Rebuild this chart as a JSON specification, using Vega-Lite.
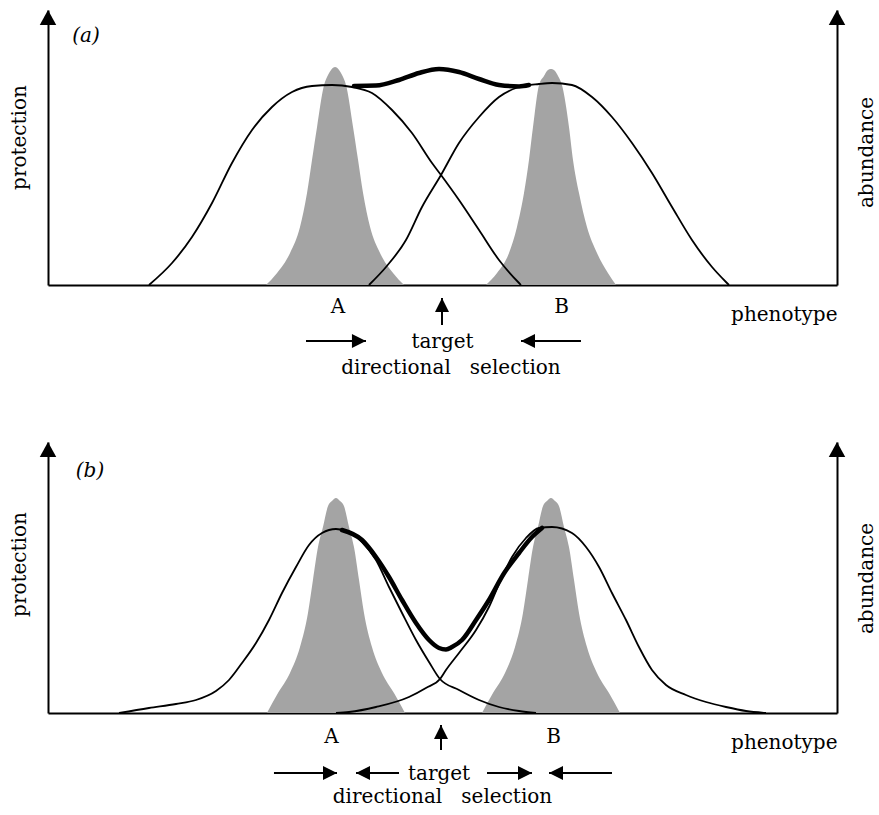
{
  "$schema": "https://vega.github.io/schema/vega-lite/v6.json",
  "padding": {"left": 9, "top": 10, "right": 0, "bottom": 0},
  "bounds": "flush",
  "spacing": 157,
  "config": {
    "font": "DejaVu Serif",
    "view": {"stroke": null},
    "axis": {"domainColor": "#000", "domainWidth": 2, "ticks": false, "labels": false, "grid": false, "titleFont": "DejaVu Serif", "titleFontSize": 20, "titleFontWeight": "normal", "titleColor": "#000"},
    "text": {"font": "DejaVu Serif", "fontSize": 20, "color": "#000"}
  },
  "datasets": {
    "prot": [
      {"panel":"a","s":"A","v":12.8,"h":0},{"panel":"a","s":"A","v":15.72,"h":0.11},{"panel":"a","s":"A","v":18.25,"h":0.24},{"panel":"a","s":"A","v":20.79,"h":0.41},{"panel":"a","s":"A","v":23.32,"h":0.61},{"panel":"a","s":"A","v":25.86,"h":0.775},{"panel":"a","s":"A","v":28.39,"h":0.89},{"panel":"a","s":"A","v":30.93,"h":0.965},{"panel":"a","s":"A","v":33.46,"h":0.995},{"panel":"a","s":"A","v":36.0,"h":1.0},{"panel":"a","s":"A","v":38.53,"h":0.99},{"panel":"a","s":"A","v":41.06,"h":0.96},{"panel":"a","s":"A","v":43.6,"h":0.875},{"panel":"a","s":"A","v":46.13,"h":0.76},{"panel":"a","s":"A","v":48.67,"h":0.61},{"panel":"a","s":"A","v":49.81,"h":0.55},{"panel":"a","s":"A","v":52.09,"h":0.425},{"panel":"a","s":"A","v":54.63,"h":0.275},{"panel":"a","s":"A","v":57.16,"h":0.125},{"panel":"a","s":"A","v":59.7,"h":0.01},{"panel":"a","s":"A","v":59.95,"h":0},
      {"panel":"a","s":"B","v":40.68,"h":0},{"panel":"a","s":"B","v":42.84,"h":0.09},{"panel":"a","s":"B","v":45.37,"h":0.225},{"panel":"a","s":"B","v":47.4,"h":0.39},{"panel":"a","s":"B","v":49.81,"h":0.55},{"panel":"a","s":"B","v":52.09,"h":0.71},{"panel":"a","s":"B","v":54.63,"h":0.84},{"panel":"a","s":"B","v":57.16,"h":0.94},{"panel":"a","s":"B","v":59.7,"h":0.99},{"panel":"a","s":"B","v":62.23,"h":1.005},{"panel":"a","s":"B","v":63.88,"h":1.01},{"panel":"a","s":"B","v":66.41,"h":1.0},{"panel":"a","s":"B","v":68.95,"h":0.94},{"panel":"a","s":"B","v":71.48,"h":0.84},{"panel":"a","s":"B","v":74.02,"h":0.71},{"panel":"a","s":"B","v":76.55,"h":0.56},{"panel":"a","s":"B","v":79.09,"h":0.39},{"panel":"a","s":"B","v":81.62,"h":0.225},{"panel":"a","s":"B","v":84.16,"h":0.09},{"panel":"a","s":"B","v":85.93,"h":0.015},{"panel":"a","s":"B","v":86.31,"h":0},
      {"panel":"a","s":"T","v":38.78,"h":0.995},{"panel":"a","s":"T","v":41.57,"h":0.997},{"panel":"a","s":"T","v":44.49,"h":1.025},{"panel":"a","s":"T","v":47.02,"h":1.06},{"panel":"a","s":"T","v":49.56,"h":1.08},{"panel":"a","s":"T","v":52.09,"h":1.065},{"panel":"a","s":"T","v":54.63,"h":1.03},{"panel":"a","s":"T","v":57.16,"h":1.0},{"panel":"a","s":"T","v":59.7,"h":0.993},{"panel":"a","s":"T","v":60.96,"h":1.0},
      {"panel":"b","s":"A","v":9.0,"h":0},{"panel":"b","s":"A","v":12.8,"h":0.025},{"panel":"b","s":"A","v":16.22,"h":0.045},{"panel":"b","s":"A","v":18.76,"h":0.065},{"panel":"b","s":"A","v":21.29,"h":0.11},{"panel":"b","s":"A","v":22.94,"h":0.165},{"panel":"b","s":"A","v":24.59,"h":0.25},{"panel":"b","s":"A","v":26.36,"h":0.35},{"panel":"b","s":"A","v":28.01,"h":0.465},{"panel":"b","s":"A","v":29.66,"h":0.6},{"panel":"b","s":"A","v":31.43,"h":0.73},{"panel":"b","s":"A","v":33.08,"h":0.84},{"panel":"b","s":"A","v":34.73,"h":0.9},{"panel":"b","s":"A","v":36.5,"h":0.92},{"panel":"b","s":"A","v":38.15,"h":0.905},{"panel":"b","s":"A","v":39.8,"h":0.855},{"panel":"b","s":"A","v":41.57,"h":0.765},{"panel":"b","s":"A","v":43.22,"h":0.63},{"panel":"b","s":"A","v":44.87,"h":0.5},{"panel":"b","s":"A","v":46.64,"h":0.365},{"panel":"b","s":"A","v":48.29,"h":0.255},{"panel":"b","s":"A","v":49.68,"h":0.17},{"panel":"b","s":"A","v":52.09,"h":0.115},{"panel":"b","s":"A","v":54.63,"h":0.065},{"panel":"b","s":"A","v":57.16,"h":0.03},{"panel":"b","s":"A","v":59.7,"h":0.01},{"panel":"b","s":"A","v":61.85,"h":0},
      {"panel":"b","s":"B","v":36.5,"h":0},{"panel":"b","s":"B","v":38.15,"h":0.005},{"panel":"b","s":"B","v":41.57,"h":0.03},{"panel":"b","s":"B","v":45.75,"h":0.08},{"panel":"b","s":"B","v":47.9,"h":0.125},{"panel":"b","s":"B","v":49.68,"h":0.17},{"panel":"b","s":"B","v":50.44,"h":0.215},{"panel":"b","s":"B","v":52.09,"h":0.3},{"panel":"b","s":"B","v":54.25,"h":0.415},{"panel":"b","s":"B","v":55.89,"h":0.53},{"panel":"b","s":"B","v":57.54,"h":0.68},{"panel":"b","s":"B","v":58.81,"h":0.78},{"panel":"b","s":"B","v":60.58,"h":0.875},{"panel":"b","s":"B","v":62.23,"h":0.925},{"panel":"b","s":"B","v":63.88,"h":0.93},{"panel":"b","s":"B","v":66.41,"h":0.9},{"panel":"b","s":"B","v":68.19,"h":0.83},{"panel":"b","s":"B","v":69.84,"h":0.73},{"panel":"b","s":"B","v":71.48,"h":0.6},{"panel":"b","s":"B","v":73.26,"h":0.465},{"panel":"b","s":"B","v":74.9,"h":0.33},{"panel":"b","s":"B","v":76.55,"h":0.215},{"panel":"b","s":"B","v":78.33,"h":0.14},{"panel":"b","s":"B","v":80.86,"h":0.09},{"panel":"b","s":"B","v":83.4,"h":0.055},{"panel":"b","s":"B","v":85.93,"h":0.03},{"panel":"b","s":"B","v":88.47,"h":0.01},{"panel":"b","s":"B","v":91.0,"h":0},
      {"panel":"b","s":"T","v":37.26,"h":0.915},{"panel":"b","s":"T","v":39.8,"h":0.865},{"panel":"b","s":"T","v":41.57,"h":0.78},{"panel":"b","s":"T","v":43.22,"h":0.68},{"panel":"b","s":"T","v":44.87,"h":0.565},{"panel":"b","s":"T","v":46.64,"h":0.45},{"panel":"b","s":"T","v":48.29,"h":0.365},{"panel":"b","s":"T","v":49.56,"h":0.325},{"panel":"b","s":"T","v":50.44,"h":0.318},{"panel":"b","s":"T","v":51.2,"h":0.33},{"panel":"b","s":"T","v":52.47,"h":0.365},{"panel":"b","s":"T","v":54.25,"h":0.465},{"panel":"b","s":"T","v":55.89,"h":0.565},{"panel":"b","s":"T","v":57.82,"h":0.7},{"panel":"b","s":"T","v":59.7,"h":0.8},{"panel":"b","s":"T","v":61.34,"h":0.88},{"panel":"b","s":"T","v":62.61,"h":0.925}
    ],
    "dots": [
      {"panel":"a","s":"A","v":27.63,"h":0},{"panel":"a","s":"A","v":29.03,"h":0.06},{"panel":"a","s":"A","v":30.68,"h":0.16},{"panel":"a","s":"A","v":31.94,"h":0.29},{"panel":"a","s":"A","v":32.83,"h":0.46},{"panel":"a","s":"A","v":33.46,"h":0.625},{"panel":"a","s":"A","v":34.1,"h":0.79},{"panel":"a","s":"A","v":34.99,"h":1.0},{"panel":"a","s":"A","v":35.49,"h":1.05},{"panel":"a","s":"A","v":35.87,"h":1.075},{"panel":"a","s":"A","v":36.38,"h":1.09},{"panel":"a","s":"A","v":36.89,"h":1.075},{"panel":"a","s":"A","v":37.27,"h":1.05},{"panel":"a","s":"A","v":37.77,"h":1.0},{"panel":"a","s":"A","v":38.66,"h":0.79},{"panel":"a","s":"A","v":39.3,"h":0.625},{"panel":"a","s":"A","v":39.93,"h":0.46},{"panel":"a","s":"A","v":40.82,"h":0.29},{"panel":"a","s":"A","v":42.08,"h":0.16},{"panel":"a","s":"A","v":43.73,"h":0.06},{"panel":"a","s":"A","v":45.13,"h":0},
      {"panel":"a","s":"B","v":55.51,"h":0},{"panel":"a","s":"B","v":56.91,"h":0.06},{"panel":"a","s":"B","v":58.43,"h":0.16},{"panel":"a","s":"B","v":59.44,"h":0.29},{"panel":"a","s":"B","v":60.33,"h":0.46},{"panel":"a","s":"B","v":60.96,"h":0.625},{"panel":"a","s":"B","v":61.47,"h":0.79},{"panel":"a","s":"B","v":62.23,"h":1.0},{"panel":"a","s":"B","v":62.86,"h":1.045},{"panel":"a","s":"B","v":63.24,"h":1.07},{"panel":"a","s":"B","v":63.75,"h":1.08},{"panel":"a","s":"B","v":64.26,"h":1.07},{"panel":"a","s":"B","v":64.64,"h":1.045},{"panel":"a","s":"B","v":65.14,"h":1.0},{"panel":"a","s":"B","v":66.03,"h":0.79},{"panel":"a","s":"B","v":66.54,"h":0.625},{"panel":"a","s":"B","v":67.3,"h":0.46},{"panel":"a","s":"B","v":68.31,"h":0.29},{"panel":"a","s":"B","v":69.58,"h":0.16},{"panel":"a","s":"B","v":70.97,"h":0.06},{"panel":"a","s":"B","v":71.99,"h":0},
      {"panel":"b","s":"A","v":27.75,"h":0},{"panel":"b","s":"A","v":29.15,"h":0.1},{"panel":"b","s":"A","v":30.67,"h":0.2},{"panel":"b","s":"A","v":31.94,"h":0.33},{"panel":"b","s":"A","v":32.95,"h":0.5},{"panel":"b","s":"A","v":33.58,"h":0.665},{"panel":"b","s":"A","v":34.22,"h":0.83},{"panel":"b","s":"A","v":34.85,"h":0.93},{"panel":"b","s":"A","v":35.49,"h":1.035},{"panel":"b","s":"A","v":35.99,"h":1.06},{"panel":"b","s":"A","v":36.5,"h":1.075},{"panel":"b","s":"A","v":37.01,"h":1.06},{"panel":"b","s":"A","v":37.51,"h":1.035},{"panel":"b","s":"A","v":38.15,"h":0.93},{"panel":"b","s":"A","v":38.78,"h":0.83},{"panel":"b","s":"A","v":39.42,"h":0.665},{"panel":"b","s":"A","v":40.05,"h":0.5},{"panel":"b","s":"A","v":41.06,"h":0.33},{"panel":"b","s":"A","v":42.33,"h":0.2},{"panel":"b","s":"A","v":43.85,"h":0.1},{"panel":"b","s":"A","v":45.25,"h":0},
      {"panel":"b","s":"B","v":55.0,"h":0},{"panel":"b","s":"B","v":56.4,"h":0.1},{"panel":"b","s":"B","v":57.92,"h":0.2},{"panel":"b","s":"B","v":59.19,"h":0.33},{"panel":"b","s":"B","v":60.2,"h":0.5},{"panel":"b","s":"B","v":60.83,"h":0.665},{"panel":"b","s":"B","v":61.47,"h":0.83},{"panel":"b","s":"B","v":62.1,"h":0.93},{"panel":"b","s":"B","v":62.74,"h":1.035},{"panel":"b","s":"B","v":63.24,"h":1.06},{"panel":"b","s":"B","v":63.75,"h":1.075},{"panel":"b","s":"B","v":64.26,"h":1.06},{"panel":"b","s":"B","v":64.76,"h":1.035},{"panel":"b","s":"B","v":65.4,"h":0.93},{"panel":"b","s":"B","v":66.03,"h":0.83},{"panel":"b","s":"B","v":66.67,"h":0.665},{"panel":"b","s":"B","v":67.3,"h":0.5},{"panel":"b","s":"B","v":68.31,"h":0.33},{"panel":"b","s":"B","v":69.58,"h":0.2},{"panel":"b","s":"B","v":71.1,"h":0.1},{"panel":"b","s":"B","v":72.5,"h":0}
    ],
    "tips": [
      {"panel":"a","v":0,"h":1.375},{"panel":"a","v":100,"h":1.375},
      {"panel":"b","v":0,"h":1.355},{"panel":"b","v":100,"h":1.355}
    ],
    "harrows": [
      {"panel":"a","v":32.7,"v2":40.3,"h":-0.28,"dir":"right"},{"panel":"a","v":67.55,"v2":59.95,"h":-0.28,"dir":"left"},
      {"panel":"b","v":28.64,"v2":36.63,"h":-0.3,"dir":"right"},{"panel":"b","v":44.49,"v2":39.04,"h":-0.3,"dir":"left"},
      {"panel":"b","v":55.64,"v2":61.34,"h":-0.3,"dir":"right"},{"panel":"b","v":71.48,"v2":63.5,"h":-0.3,"dir":"left"}
    ],
    "varrows": [
      {"panel":"a","v":49.94,"h":-0.2,"h2":-0.065},
      {"panel":"b","v":49.81,"h":-0.185,"h2":-0.06}
    ],
    "notes": [
      {"panel":"a","label":"A","v":36.76,"h":-0.14},{"panel":"a","label":"B","v":65.08,"h":-0.14},
      {"panel":"a","label":"target","v":50.0,"h":-0.315},{"panel":"a","label":"directional\u00a0\u00a0\u00a0selection","v":51.08,"h":-0.445},
      {"panel":"b","label":"A","v":35.93,"h":-0.15},{"panel":"b","label":"B","v":64.07,"h":-0.15},
      {"panel":"b","label":"target","v":49.56,"h":-0.335},{"panel":"b","label":"directional\u00a0\u00a0\u00a0selection","v":50.0,"h":-0.45}
    ],
    "tags": [
      {"panel":"a","label":"(a)","v":4.82,"h":1.245},
      {"panel":"b","label":"(b)","v":5.32,"h":1.21}
    ]
  },
  "vconcat": [
    {
      "width": 789, "height": 275,
      "resolve": {"axis": {"y": "independent"}},
      "encoding": {"x": {"field": "v", "type": "quantitative", "scale": {"domain": [0, 100], "nice": false, "zero": false}, "axis": {"title": "phenotype", "titleX": 789, "titleY": 35, "titleAlign": "right", "titleBaseline": "alphabetic"}}},
      "layer": [
        {"data": {"name": "dots"}, "transform": [{"filter": "datum.panel == 'a'"}],
         "mark": {"type": "area", "interpolate": "monotone", "color": "#a4a4a4"},
         "encoding": {"detail": {"field": "s"}, "y": {"field": "h", "type": "quantitative", "stack": null, "scale": {"domain": [0, 1.375], "nice": false}, "axis": {"orient": "right", "title": "abundance", "titleAngle": 270, "titleX": 29, "titleY": 142, "titleBaseline": "middle", "titleAlign": "center"}}}},
        {"data": {"name": "prot"}, "transform": [{"filter": "datum.panel == 'a' && datum.s != 'T'"}],
         "mark": {"type": "line", "interpolate": "monotone", "color": "#000", "strokeWidth": 1.8},
         "encoding": {"detail": {"field": "s"}, "y": {"field": "h", "type": "quantitative", "scale": {"domain": [0, 1.375], "nice": false}, "axis": {"orient": "left", "title": "protection", "titleAngle": 270, "titleX": -29, "titleY": 127, "titleBaseline": "middle", "titleAlign": "center"}}}},
        {"data": {"name": "prot"}, "transform": [{"filter": "datum.panel == 'a' && datum.s == 'T'"}],
         "mark": {"type": "line", "interpolate": "monotone", "color": "#000", "strokeWidth": 4.5, "strokeCap": "round"},
         "encoding": {"y": {"field": "h", "type": "quantitative", "scale": {"domain": [0, 1.375], "nice": false}, "axis": null}}},
        {"data": {"name": "tips"}, "transform": [{"filter": "datum.panel == 'a'"}],
         "mark": {"type": "point", "shape": "M0,0L0.55,1L-0.55,1Z", "size": 900, "filled": true, "color": "#000", "opacity": 1},
         "encoding": {"y": {"field": "h", "type": "quantitative", "scale": {"domain": [0, 1.375], "nice": false}, "axis": null}}},
        {"data": {"name": "harrows"}, "transform": [{"filter": "datum.panel == 'a'"}],
         "mark": {"type": "rule", "color": "#000", "strokeWidth": 2},
         "encoding": {"x2": {"field": "v2"}, "y": {"field": "h", "type": "quantitative", "scale": {"domain": [0, 1.375], "nice": false}, "axis": null}}},
        {"data": {"name": "harrows"}, "transform": [{"filter": "datum.panel == 'a' && datum.dir == 'right'"}],
         "mark": {"type": "point", "shape": "M0,0L-1,-0.5L-1,0.5Z", "size": 784, "filled": true, "color": "#000", "opacity": 1},
         "encoding": {"x": {"field": "v2", "type": "quantitative"}, "y": {"field": "h", "type": "quantitative", "scale": {"domain": [0, 1.375], "nice": false}, "axis": null}}},
        {"data": {"name": "harrows"}, "transform": [{"filter": "datum.panel == 'a' && datum.dir == 'left'"}],
         "mark": {"type": "point", "shape": "M0,0L1,-0.5L1,0.5Z", "size": 784, "filled": true, "color": "#000", "opacity": 1},
         "encoding": {"x": {"field": "v2", "type": "quantitative"}, "y": {"field": "h", "type": "quantitative", "scale": {"domain": [0, 1.375], "nice": false}, "axis": null}}},
        {"data": {"name": "varrows"}, "transform": [{"filter": "datum.panel == 'a'"}],
         "mark": {"type": "rule", "color": "#000", "strokeWidth": 2},
         "encoding": {"y": {"field": "h", "type": "quantitative", "scale": {"domain": [0, 1.375], "nice": false}, "axis": null}, "y2": {"field": "h2"}}},
        {"data": {"name": "varrows"}, "transform": [{"filter": "datum.panel == 'a'"}],
         "mark": {"type": "point", "shape": "M0,0L0.5,1L-0.5,1Z", "size": 784, "filled": true, "color": "#000", "opacity": 1},
         "encoding": {"y": {"field": "h2", "type": "quantitative", "scale": {"domain": [0, 1.375], "nice": false}, "axis": null}}},
        {"data": {"name": "notes"}, "transform": [{"filter": "datum.panel == 'a'"}],
         "mark": {"type": "text", "align": "center", "baseline": "alphabetic"},
         "encoding": {"text": {"field": "label"}, "y": {"field": "h", "type": "quantitative", "scale": {"domain": [0, 1.375], "nice": false}, "axis": null}}},
        {"data": {"name": "tags"}, "transform": [{"filter": "datum.panel == 'a'"}],
         "mark": {"type": "text", "align": "center", "baseline": "middle", "fontStyle": "italic"},
         "encoding": {"text": {"field": "label"}, "y": {"field": "h", "type": "quantitative", "scale": {"domain": [0, 1.375], "nice": false}, "axis": null}}}
      ]
    },
    {
      "width": 789, "height": 271,
      "resolve": {"axis": {"y": "independent"}},
      "encoding": {"x": {"field": "v", "type": "quantitative", "scale": {"domain": [0, 100], "nice": false, "zero": false}, "axis": {"title": "phenotype", "titleX": 789, "titleY": 35, "titleAlign": "right", "titleBaseline": "alphabetic"}}},
      "layer": [
        {"data": {"name": "dots"}, "transform": [{"filter": "datum.panel == 'b'"}],
         "mark": {"type": "area", "interpolate": "monotone", "color": "#a4a4a4"},
         "encoding": {"detail": {"field": "s"}, "y": {"field": "h", "type": "quantitative", "stack": null, "scale": {"domain": [0, 1.355], "nice": false}, "axis": {"orient": "right", "title": "abundance", "titleAngle": 270, "titleX": 29, "titleY": 136, "titleBaseline": "middle", "titleAlign": "center"}}}},
        {"data": {"name": "prot"}, "transform": [{"filter": "datum.panel == 'b' && datum.s != 'T'"}],
         "mark": {"type": "line", "interpolate": "monotone", "color": "#000", "strokeWidth": 1.8},
         "encoding": {"detail": {"field": "s"}, "y": {"field": "h", "type": "quantitative", "scale": {"domain": [0, 1.355], "nice": false}, "axis": {"orient": "left", "title": "protection", "titleAngle": 270, "titleX": -29, "titleY": 122, "titleBaseline": "middle", "titleAlign": "center"}}}},
        {"data": {"name": "prot"}, "transform": [{"filter": "datum.panel == 'b' && datum.s == 'T'"}],
         "mark": {"type": "line", "interpolate": "monotone", "color": "#000", "strokeWidth": 4.5, "strokeCap": "round"},
         "encoding": {"y": {"field": "h", "type": "quantitative", "scale": {"domain": [0, 1.355], "nice": false}, "axis": null}}},
        {"data": {"name": "tips"}, "transform": [{"filter": "datum.panel == 'b'"}],
         "mark": {"type": "point", "shape": "M0,0L0.55,1L-0.55,1Z", "size": 900, "filled": true, "color": "#000", "opacity": 1},
         "encoding": {"y": {"field": "h", "type": "quantitative", "scale": {"domain": [0, 1.355], "nice": false}, "axis": null}}},
        {"data": {"name": "harrows"}, "transform": [{"filter": "datum.panel == 'b'"}],
         "mark": {"type": "rule", "color": "#000", "strokeWidth": 2},
         "encoding": {"x2": {"field": "v2"}, "y": {"field": "h", "type": "quantitative", "scale": {"domain": [0, 1.355], "nice": false}, "axis": null}}},
        {"data": {"name": "harrows"}, "transform": [{"filter": "datum.panel == 'b' && datum.dir == 'right'"}],
         "mark": {"type": "point", "shape": "M0,0L-1,-0.5L-1,0.5Z", "size": 784, "filled": true, "color": "#000", "opacity": 1},
         "encoding": {"x": {"field": "v2", "type": "quantitative"}, "y": {"field": "h", "type": "quantitative", "scale": {"domain": [0, 1.355], "nice": false}, "axis": null}}},
        {"data": {"name": "harrows"}, "transform": [{"filter": "datum.panel == 'b' && datum.dir == 'left'"}],
         "mark": {"type": "point", "shape": "M0,0L1,-0.5L1,0.5Z", "size": 784, "filled": true, "color": "#000", "opacity": 1},
         "encoding": {"x": {"field": "v2", "type": "quantitative"}, "y": {"field": "h", "type": "quantitative", "scale": {"domain": [0, 1.355], "nice": false}, "axis": null}}},
        {"data": {"name": "varrows"}, "transform": [{"filter": "datum.panel == 'b'"}],
         "mark": {"type": "rule", "color": "#000", "strokeWidth": 2},
         "encoding": {"y": {"field": "h", "type": "quantitative", "scale": {"domain": [0, 1.355], "nice": false}, "axis": null}, "y2": {"field": "h2"}}},
        {"data": {"name": "varrows"}, "transform": [{"filter": "datum.panel == 'b'"}],
         "mark": {"type": "point", "shape": "M0,0L0.5,1L-0.5,1Z", "size": 784, "filled": true, "color": "#000", "opacity": 1},
         "encoding": {"y": {"field": "h2", "type": "quantitative", "scale": {"domain": [0, 1.355], "nice": false}, "axis": null}}},
        {"data": {"name": "notes"}, "transform": [{"filter": "datum.panel == 'b'"}],
         "mark": {"type": "text", "align": "center", "baseline": "alphabetic"},
         "encoding": {"text": {"field": "label"}, "y": {"field": "h", "type": "quantitative", "scale": {"domain": [0, 1.355], "nice": false}, "axis": null}}},
        {"data": {"name": "tags"}, "transform": [{"filter": "datum.panel == 'b'"}],
         "mark": {"type": "text", "align": "center", "baseline": "middle", "fontStyle": "italic"},
         "encoding": {"text": {"field": "label"}, "y": {"field": "h", "type": "quantitative", "scale": {"domain": [0, 1.355], "nice": false}, "axis": null}}}
      ]
    }
  ]
}
